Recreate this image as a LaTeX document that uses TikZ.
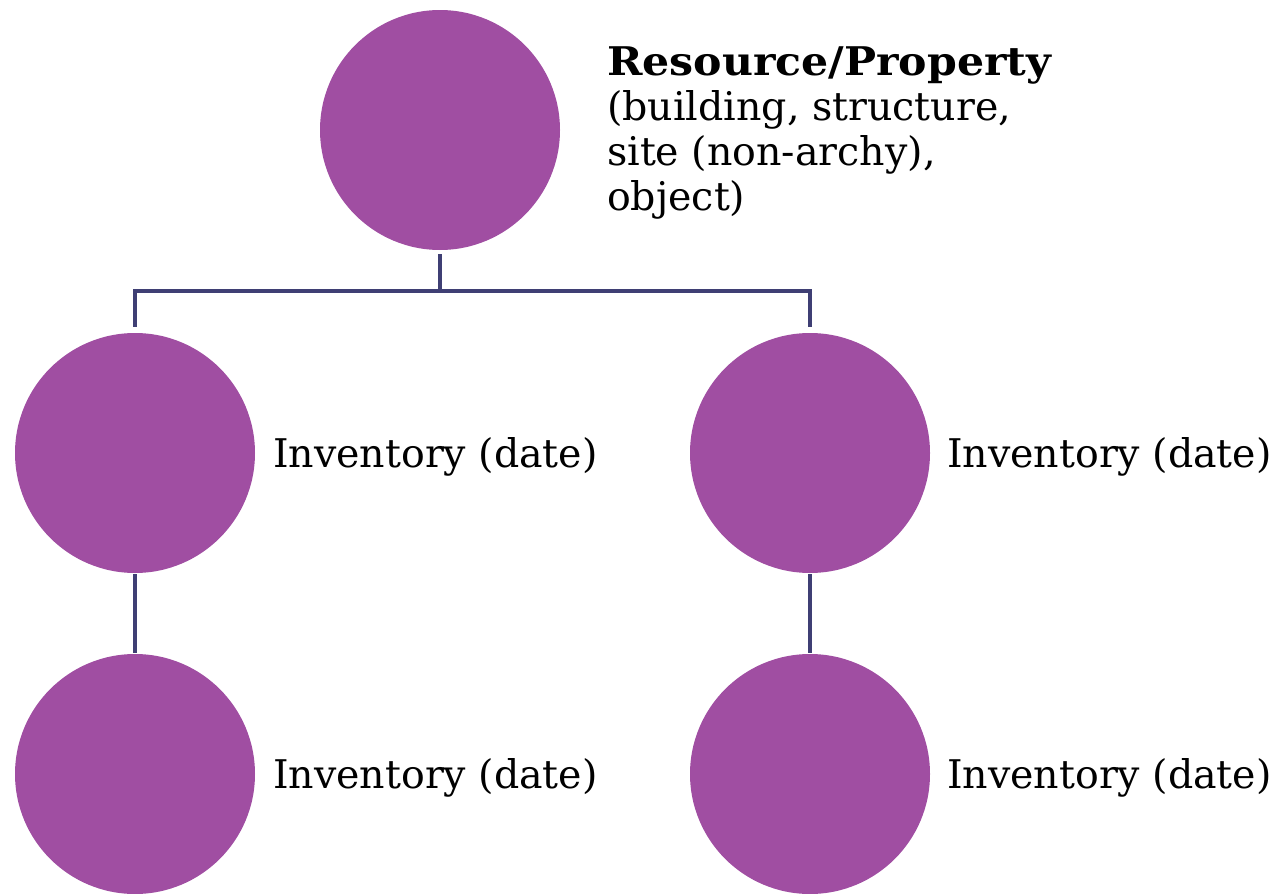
\documentclass[tikz,border=0pt]{standalone}
\usepackage{fontspec}
\setmainfont{DejaVu Serif}
\definecolor{circ}{HTML}{A04EA2}
\definecolor{conn}{HTML}{3F3F74}
\begin{document}
\begin{tikzpicture}[x=1pt,y=-1pt,
  bub/.style={circle,fill=circ,minimum size=240pt,inner sep=0pt},
  lab/.style={anchor=base west,inner sep=0pt,font=\fontsize{39.5}{45}\selectfont},
  link/.style={draw=conn,line width=3.5pt}]
\useasboundingbox (0,0) rectangle (1278,894);
\node[bub] (top) at (440,130) {};
\node[bub] (l1) at (135,453) {};
\node[bub] (l2) at (135,774) {};
\node[bub] (r1) at (810,453) {};
\node[bub] (r2) at (810,774) {};
\node[lab] (tt) at (607,75) {\scalebox{1.08}[1]{\bfseries Resource/Property}};
\node[lab] (t2) at (607,120) {(building, structure,};
\node[lab] (t3) at (607,165) {site (non-archy),};
\node[lab] (t4) at (607,210) {object)};
\node[lab] (il1) at (273,467) {Inventory (date)};
\node[lab] (il2) at (273,788) {Inventory (date)};
\node[lab] (ir1) at (947,467) {Inventory (date)};
\node[lab] (ir2) at (947,788) {Inventory (date)};
\coordinate (j) at (440,291);
\draw[link] ([yshift=-4pt]top.south) -- (j);
\draw[link] ([yshift=6pt]l1.north) |- (j) -| ([yshift=6pt]r1.north);
\draw[link] ([yshift=-1pt]l1.south) -- ([yshift=1pt]l2.north);
\draw[link] ([yshift=-1pt]r1.south) -- ([yshift=1pt]r2.north);
\end{tikzpicture}
\end{document}
